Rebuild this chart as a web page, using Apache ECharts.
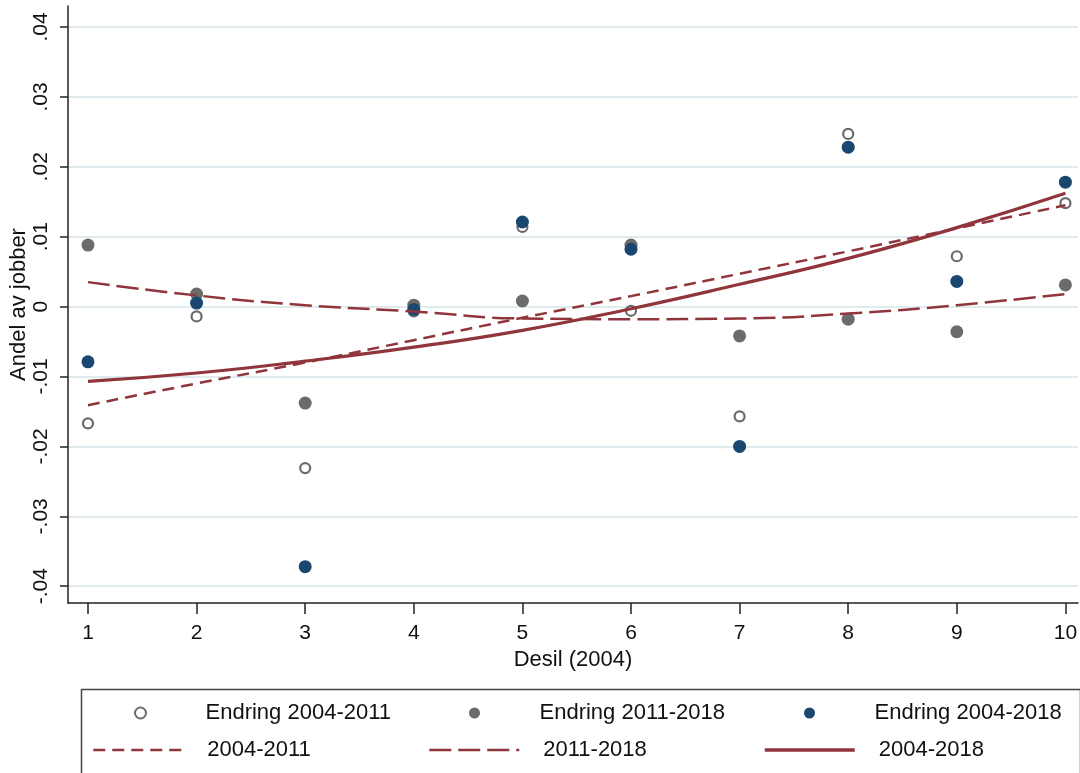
<!DOCTYPE html>
<html>
<head>
<meta charset="utf-8">
<script src="https://cdn.jsdelivr.net/npm/echarts@6/dist/echarts.min.js"></script>
<style>
html,body{margin:0;padding:0;background:#fff;}
#chart{width:1080px;height:773px;}
</style>
</head>
<body>
<div id="chart"></div>
<script>
// ---- data ----
const deciles = [1, 2, 3, 4, 5, 6, 7, 8, 9, 10];
const endring0411 = [-0.0167, -0.0014, -0.0231, -0.0007, 0.0114, -0.0006, -0.0157, 0.0247, 0.0072, 0.0148];
const endring1118 = [0.0088, 0.0018, -0.0138, 0.0002, 0.0008, 0.0088, -0.0042, -0.0018, -0.0036, 0.0031];
const endring0418 = [-0.0079, 0.0005, -0.0372, -0.0004, 0.0121, 0.0082, -0.0200, 0.0228, 0.0036, 0.0178];
const fit0411 = [-0.0141, -0.0110, -0.0080, -0.0048, -0.0016, 0.0015, 0.0047, 0.0079, 0.0112, 0.0145];
const fit1118 = [0.0035, 0.0016, 0.0002, -0.0007, -0.0017, -0.0018, -0.0017, -0.0010, 0.0002, 0.0018];
const fit0418 = [-0.0107, -0.0095, -0.0078, -0.0058, -0.0034, -0.0003, 0.0032, 0.0069, 0.0113, 0.0162];
const yTicks = [-0.04, -0.03, -0.02, -0.01, 0, 0.01, 0.02, 0.03, 0.04];
const yTickLabels = ['-.04', '-.03', '-.02', '-.01', '0', '.01', '.02', '.03', '.04'];
const xTickLabels = ['1', '2', '3', '4', '5', '6', '7', '8', '9', '10'];

const FONT = "'Liberation Sans', Arial, sans-serif";
const MAROON = '#90353b';
const GRAY = '#6b6b6b';
const NAVY = '#1a476f';

function pairs(ys) { return deciles.map((x, i) => [x, ys[i]]); }
function yLabel(v) {
  for (let i = 0; i < yTicks.length; i++) if (Math.abs(v - yTicks[i]) < 1e-9) return yTickLabels[i];
  return '';
}
function xLabel(v) {
  const i = deciles.indexOf(Math.round(v));
  return i >= 0 ? xTickLabels[i] : '';
}

function lg(name, left, top, pad, extra) {
  return {
    padding: 0, itemWidth: 90, itemHeight: 11, left: left, top: top,
    textStyle: { fontSize: 22, fontFamily: FONT, color: '#111', padding: [0, 0, 0, pad] },
    data: [Object.assign({ name: name }, extra || {})]
  };
}

const chart = echarts.init(document.getElementById('chart'), null, { renderer: 'canvas' });
chart.setOption({
  backgroundColor: '#fff',
  animation: false,
  textStyle: { fontFamily: FONT },
  grid: { left: 68, right: 2, top: 6, bottom: 170, containLabel: false, outerBoundsMode: 'none' },
  xAxis: {
    type: 'value', min: 0.816, max: 10.116,
    name: 'Desil (2004)', nameLocation: 'middle', nameGap: 46, nameMoveOverlap: false,
    nameTextStyle: { fontSize: 22, color: '#111', fontFamily: FONT },
    axisLine: { show: true, onZero: false, lineStyle: { color: '#222', width: 1.5 } },
    axisTick: { show: true, length: 11, customValues: deciles, lineStyle: { color: '#222', width: 1.5 } },
    axisLabel: { customValues: deciles, formatter: xLabel, fontSize: 21, color: '#111', margin: 20, fontFamily: FONT },
    splitLine: { show: false }
  },
  yAxis: {
    type: 'value', min: -0.0424, max: 0.043,
    name: 'Andel av jobber', nameLocation: 'middle', nameGap: 38, nameRotate: 90, nameMoveOverlap: false,
    nameTextStyle: { fontSize: 22, color: '#111', fontFamily: FONT },
    axisLine: { show: true, onZero: false, lineStyle: { color: '#222', width: 1.5 } },
    axisTick: { show: true, length: 8, customValues: yTicks, lineStyle: { color: '#222', width: 1.5 } },
    axisLabel: { customValues: yTicks, formatter: yLabel, rotate: 90, fontSize: 21, color: '#111', margin: 16, fontFamily: FONT },
    splitLine: { show: true, lineStyle: { color: '#dfebef', width: 2 } }
  },
  legend: [
    lg('Endring 2004-2011', 134, 702, 15, { itemStyle: { color: '#fff', borderColor: GRAY, borderWidth: 2 } }),
    lg('Endring 2011-2018', 469, 702, 15, { itemStyle: { color: GRAY } }),
    lg('Endring 2004-2018', 804, 702, 15, { itemStyle: { color: NAVY } }),
    lg('2004-2011', 92, 739, 19, { itemStyle: { opacity: 0 }, lineStyle: { width: 2.5 } }),
    lg('2011-2018', 428, 739, 19, { itemStyle: { opacity: 0 }, lineStyle: { width: 2.5 } }),
    lg('2004-2018', 763, 739, 19, { itemStyle: { opacity: 0 }, lineStyle: { width: 3.5 } })
  ],
  graphic: [{
    type: 'rect', left: 79, top: 687, silent: true,
    shape: { width: 999, height: 100 },
    style: { fill: 'none', stroke: '#444', lineWidth: 1.5 }
  }],
  series: [
    { name: 'Endring 2004-2011', type: 'scatter', data: pairs(endring0411), symbol: 'circle', symbolSize: 10,
      itemStyle: { color: '#fff', borderColor: GRAY, borderWidth: 2.2, opacity: 1 }, z: 2 },
    { name: 'Endring 2011-2018', type: 'scatter', data: pairs(endring1118), symbol: 'circle', symbolSize: 13,
      itemStyle: { color: GRAY, opacity: 1 }, z: 3 },
    { name: 'Endring 2004-2018', type: 'scatter', data: pairs(endring0418), symbol: 'circle', symbolSize: 13,
      itemStyle: { color: NAVY, opacity: 1 }, z: 4 },
    { name: '2004-2011', type: 'line', data: pairs(fit0411), smooth: true, showSymbol: false, symbol: 'none',
      lineStyle: { color: MAROON, width: 2.5, type: [12, 7] }, itemStyle: { color: MAROON }, z: 5 },
    { name: '2011-2018', type: 'line', data: pairs(fit1118), smooth: true, showSymbol: false, symbol: 'none',
      lineStyle: { color: MAROON, width: 2.5, type: [22, 7] }, itemStyle: { color: MAROON }, z: 5 },
    { name: '2004-2018', type: 'line', data: pairs(fit0418), smooth: true, showSymbol: false, symbol: 'none',
      lineStyle: { color: MAROON, width: 3.2 }, itemStyle: { color: MAROON }, z: 5 }
  ]
});
</script>
</body>
</html>
